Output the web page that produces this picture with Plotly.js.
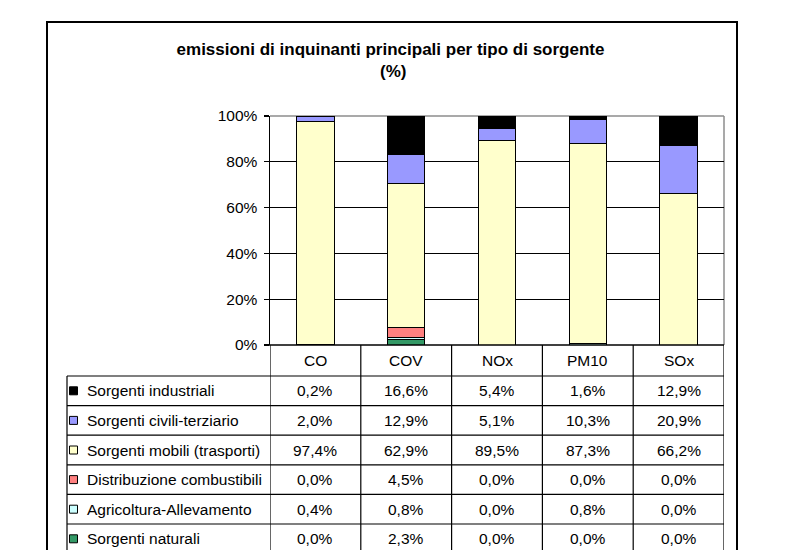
<!DOCTYPE html>
<html>
<head>
<meta charset="utf-8">
<script src="https://cdn.plot.ly/plotly-3.0.1.min.js"></script>
<style>html,body{margin:0;padding:0;background:#fff;}#chart{width:792px;height:550px;}</style>
</head>
<body>
<div id="chart"></div>
<script>
// ---- data ----
const categories = ['CO', 'COV', 'NOx', 'PM10', 'SOx'];
const seriesNames = ['Sorgenti industriali', 'Sorgenti civili-terziario', 'Sorgenti mobili (trasporti)',
                     'Distribuzione combustibili', 'Agricoltura-Allevamento', 'Sorgenti naturali'];
const industriali   = [0.2, 16.6, 5.4, 1.6, 12.9];
const civili        = [2.0, 12.9, 5.1, 10.3, 20.9];
const mobili        = [97.4, 62.9, 89.5, 87.3, 66.2];
const distribuzione = [0.0, 4.5, 0.0, 0.0, 0.0];
const agricoltura   = [0.4, 0.8, 0.0, 0.8, 0.0];
const naturali      = [0.0, 2.3, 0.0, 0.0, 0.0];
const yTickVals = [0, 20, 40, 60, 80, 100];
const yTickText = ['0%', '20%', '40%', '60%', '80%', '100%'];
const colors = ['#000000', '#9999FF', '#FFFFCC', '#FF8080', '#CCFFFF', '#339966'];

// table rows, top to bottom
const rows = [industriali, civili, mobili, distribuzione, agricoltura, naturali];

// ---- geometry helpers (pixels -> paper) ----
const W = 792, H = 550;
const px = x => x / W;
const py = y => 1 - y / H;
const plotL = 270, plotR = 724, plotT = 116, plotB = 345;
const headerB = 376, rowH = 29.6, legL = 67;
const FONT = 'Liberation Sans, Arial, sans-serif';
const FS = 15.5;

// traces: stacked bottom -> top
const traces = [];
for (let k = rows.length - 1; k >= 0; k--) {
  traces.push({
    type: 'bar', x: categories, y: rows[k], name: seriesNames[k],
    marker: {color: colors[k], line: {color: '#000000', width: 1}},
    width: 0.41, hoverinfo: 'name+y'
  });
}

const fmt = v => v.toFixed(1).replace('.', ',') + '%';

const shapes = [];
const annotations = [];
const line = (x0, y0, x1, y1, color, w, xref, layer) => shapes.push({
  type: 'line', xref: xref || 'paper', yref: 'paper', x0: x0, y0: y0, x1: x1, y1: y1,
  line: {color: color, width: w}, layer: layer || 'above'
});

// plot border (grey) top and right
line(px(plotL), py(plotT), px(plotR), py(plotT), '#8c8c8c', 1.5, 'paper', 'between');
line(px(plotR), py(plotT), px(plotR), py(plotB), '#8c8c8c', 1.5, 'paper', 'between');

// outer chart border
shapes.push({type: 'rect', xref: 'paper', yref: 'paper', x0: px(47), y0: py(22), x1: px(737), y1: py(620),
  line: {color: '#000000', width: 2}, fillcolor: 'rgba(0,0,0,0)'});

// table: header top line (axis baseline)
line(px(plotL - 4), py(plotB), px(plotR), py(plotB), '#000000', 1.5);
// vertical column lines
for (let i = 0; i <= categories.length; i++) {
  line(i - 0.5, py(plotB), i - 0.5, py(headerB + rowH * rows.length + 20), '#000000', 1.2, 'x');
}
// legend column left border
line(px(legL), py(headerB), px(legL), py(headerB + rowH * rows.length + 20), '#000000', 1.2);
// horizontal row lines
for (let r = 0; r < rows.length; r++) {
  const y = headerB + r * rowH;
  line(px(legL), py(y), px(plotR), py(y), '#000000', 1.2);
}

const cellFont = {family: FONT, size: FS, color: '#000000'};
// header labels
categories.forEach((c, i) => annotations.push({
  xref: 'x', yref: 'paper', x: i, y: py((plotB + headerB) / 2), text: c, showarrow: false,
  xanchor: 'center', yanchor: 'middle', font: cellFont
}));
// rows
rows.forEach((vals, r) => {
  const yc = headerB + r * rowH + rowH / 2;
  shapes.push({type: 'rect', xref: 'paper', yref: 'paper',
    x0: px(69.5), x1: px(77.5), y0: py(yc - 4), y1: py(yc + 4),
    fillcolor: colors[r], line: {color: '#000000', width: 1}});
  annotations.push({xref: 'paper', yref: 'paper', x: px(84.5), y: py(yc), text: seriesNames[r],
    showarrow: false, xanchor: 'left', yanchor: 'middle', font: cellFont});
  vals.forEach((v, i) => annotations.push({
    xref: 'x', yref: 'paper', x: i, y: py(yc), text: fmt(v), showarrow: false,
    xanchor: 'center', yanchor: 'middle', font: cellFont
  }));
});

// second title line
annotations.push({xref: 'paper', yref: 'paper', x: px(393), y: py(72), text: '<b>(%)</b>',
  showarrow: false, xanchor: 'center', yanchor: 'middle',
  font: {family: FONT, size: 17, color: '#000000'}});

const layout = {
  width: W, height: H,
  margin: {l: 0, r: 0, t: 0, b: 0},
  paper_bgcolor: '#ffffff', plot_bgcolor: '#ffffff',
  showlegend: false,
  barmode: 'stack',
  title: {text: '<b>emissioni di inquinanti principali per tipo di sorgente</b>',
    x: px(390.5), xanchor: 'center', y: py(49), yanchor: 'middle', xref: 'paper', yref: 'paper',
    font: {family: FONT, size: 17, color: '#000000'}},
  xaxis: {domain: [px(plotL), px(plotR)], type: 'category', range: [-0.5, 4.5],
    showticklabels: false, showgrid: false, zeroline: false, showline: false, ticks: ''},
  yaxis: {domain: [py(plotB), py(plotT)], range: [0, 100], tickvals: yTickVals, ticktext: yTickText,
    ticks: 'outside', ticklen: 5, tickcolor: '#000000', tickwidth: 1.2, ticklabelstandoff: 3,
    showline: true, linecolor: '#000000', linewidth: 1.5,
    showgrid: true, gridcolor: '#000000', gridwidth: 1.2, zeroline: false,
    tickfont: {family: FONT, size: FS, color: '#000000'}},
  shapes: shapes,
  annotations: annotations
};

Plotly.newPlot('chart', traces, layout, {displayModeBar: false, staticPlot: true});
</script>
</body>
</html>
